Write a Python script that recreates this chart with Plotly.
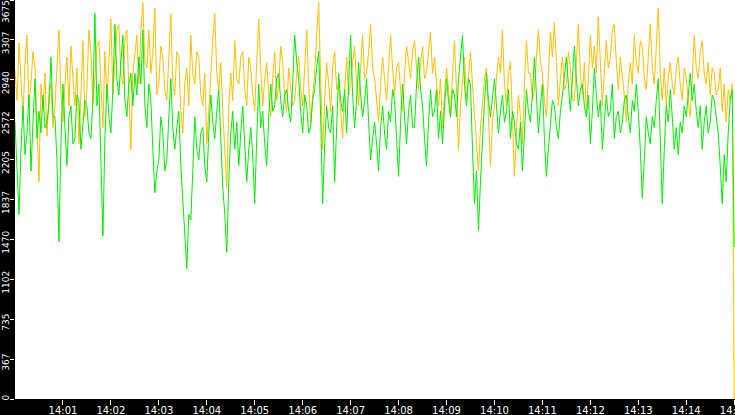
import pandas as pd
import plotly.graph_objects as go

# samples every 2.5 s from 14:00:00 to 14:15:00
start = "2024-01-01 14:00:00"

orange_vals = [
    3030, 2750, 3280, 2950, 2600, 3100, 3350, 2700, 2900, 3200,
    3050, 2550, 2000, 2900, 2650, 3000, 2420, 2800, 2900, 2500,
    2700, 3050, 3400, 2800, 2550, 2900, 3150, 2700, 3250, 2950,
    2700, 3050, 2350, 2800, 3300, 2600, 2850, 3400, 3200, 2700,
    2950, 3250, 3300, 2850, 2500, 3200, 2750, 3100, 3500, 2800,
    3100, 3400, 3450, 3000, 2900, 3300, 3400, 2800, 2300, 3000,
    3150, 3350, 2900, 3400, 3650, 3100, 3050, 3400, 3000, 3200,
    3600, 2800, 2900, 3250, 3150, 2850, 2750, 3100, 3550, 2900,
    2800, 3200, 3150, 2650, 2450, 2900, 3050, 2700, 3350, 3000,
    2900, 3200, 3150, 2800, 2700, 3000, 2350, 2650, 3000, 3300,
    3550, 3000, 2850, 3100, 2650, 2300, 1950, 2700, 3000, 2750,
    3300, 2950, 2900, 3150, 3200, 2850, 2700, 3150, 3050, 2800,
    2650, 3100, 3500, 3050, 2700, 2950, 3100, 2800, 2600, 2950,
    3200, 2750, 2900, 3250, 3100, 2800, 2650, 3050, 2900, 2700,
    2750, 3000, 3150, 2850, 2700, 3100, 3400, 2900, 2550, 2800,
    3000, 3350, 3650, 2950, 2300, 2750, 3100, 2900, 2650, 3050,
    3200, 2850, 2900, 2650, 2400, 2850, 3150, 2800, 2900, 3100,
    3250, 2900, 2700, 3050, 3350, 2950, 3000, 3200, 3450, 3050,
    2950, 2750, 2550, 2900, 3150, 2950, 2750, 3050, 3350, 3050,
    2800, 3050, 3100, 2850, 2650, 3000, 3250, 3100, 2950, 3200,
    3300, 3050, 2850, 3100, 3250, 2950, 3000, 3200, 3380, 3000,
    3150, 2900, 2700, 2950, 2500, 2800, 3050, 2850, 2600, 3000,
    3300, 2850, 2300, 2700, 2950, 3150, 2750, 3000, 3200, 2900,
    2650, 2400, 2100, 2500, 2700, 2950, 3050, 2600, 2150, 2550,
    2700, 2950, 3150, 3000, 3400, 2900, 2700, 3000, 3100, 2600,
    2050, 2450, 2800, 2600, 2350, 2900, 3300, 3000, 3000, 2750,
    2850, 3150, 3400, 3100, 3000, 2750, 2600, 3000, 3380, 3150,
    3470, 3100, 2700, 2950, 3150, 2850, 2900, 3200, 3050, 2750,
    2750, 3100, 3450, 3000, 2800, 3100, 2600, 2950, 3350, 3050,
    3250, 3000, 3520, 3100, 2700, 3000, 3300, 3050, 3150, 3400,
    3450, 3100, 2850, 3150, 3000, 2800, 2550, 2900, 3100, 2900,
    3350, 3100, 3000, 3300, 3250, 2950, 2850, 3150, 3450, 3050,
    2900, 3250, 3600, 3000, 2750, 3050, 2700, 2950, 3100, 2900,
    2800, 3050, 3150, 2900, 2750, 3050, 2950, 2750, 2600, 2950,
    3350, 3050, 2950, 3200, 3300, 3000, 2900, 3100, 2800, 3050,
    3000, 2800, 2850, 3050, 2650, 2900, 2550, 2850, 2750, 2900,
    0,
]

green_vals = [
    2550, 2100, 1700, 2300, 2700, 2250, 2450, 2800, 2100, 2550,
    2950, 2400, 2650, 2450, 2800, 2500, 2550, 2700, 3150, 2600,
    2600, 2200, 1450, 2350, 2900, 2500, 2150, 2600, 2700, 2350,
    2400, 2800, 2750, 2300, 2500, 2750, 2700, 2450, 2400, 2750,
    3550, 2700, 2900, 2200, 1500, 2400, 2900, 2600, 2450, 2850,
    3450, 2950, 2800, 3100, 3350, 2750, 2600, 2900, 3000, 2700,
    3000, 2800, 3150, 2900, 3400, 2700, 2500, 2900, 2750, 2300,
    1900, 2100, 2200, 2600, 2450, 2100, 2200, 2600, 2950, 2500,
    2300, 2500, 2650, 2150, 1850, 1500, 1200, 1700, 1650, 2100,
    2600, 2300, 2200, 2450, 2500, 2150, 2000, 2450, 2800, 2550,
    2400, 2650, 2850, 2400, 1950, 1700, 1350, 2000, 2450, 2650,
    2300, 2550, 2150, 2450, 2700, 2350, 2000, 2300, 2500, 2250,
    1800, 2400, 2900, 2500, 2650, 2350, 2150, 2600, 2900, 2650,
    2700, 2950, 3000, 2750, 2600, 2800, 2850, 2650, 2550, 2900,
    3350, 3100, 2950, 2650, 2450, 2800, 2700, 2450, 2500, 2750,
    2850, 3050, 3200, 2600, 1800, 2350, 2700, 2500, 2450, 2700,
    2000, 2500, 3000, 2750, 2650, 2850, 2450, 2900, 3350, 2800,
    2500, 2750, 3100, 2800, 2600, 2750, 2950, 2550, 2200, 2400,
    2550, 2350, 2100, 2500, 2700, 2450, 2300, 2650, 2550, 2850,
    2750, 2400, 2050, 2550, 2900, 2600, 2350, 2650, 2800, 2500,
    2500, 2900, 3150, 2850, 2700, 2400, 2150, 2550, 2850, 2600,
    2650, 2850, 2400, 2650, 2350, 2700, 2950, 2750, 2600, 2850,
    2800, 2600, 2950, 3150, 3350, 2900, 2700, 2950, 2900, 2300,
    1800, 2100, 1550, 2000, 2450, 2750, 3000, 2750, 2600, 2800,
    2950, 2700, 2450, 2650, 2800, 2550, 2650, 2850, 2400, 2650,
    2550, 2350, 2300, 2550, 2100, 2450, 2850, 2650, 2550, 2800,
    3150, 2800, 2450, 2700, 2900, 2400, 2050, 2300, 2500, 2750,
    2700, 2500, 2400, 2650, 2800, 3000, 3150, 2900, 2650, 2950,
    3250, 2950, 2700, 2850, 2900, 2700, 2600, 2800, 2350, 2650,
    3050, 2800, 2600, 2750, 2300, 2550, 2800, 2600, 2650, 2900,
    2400, 2600, 2650, 2450, 2550, 2750, 2800, 2600, 2450, 2750,
    2650, 2900, 2650, 2300, 1850, 2200, 2600, 2450, 2350, 2600,
    2500, 2750, 2950, 2400, 1800, 2300, 2700, 2550, 2850, 2600,
    2300, 2500, 2250, 2550, 2450, 2700, 2600, 2800, 3000, 2750,
    2900, 2650, 2500, 2700, 2300, 2550, 2700, 2450, 2550, 2800,
    2750, 2600, 2450, 2150, 1800, 2250, 2000, 2450, 2750, 2850,
    1400,
]

y_ticks = [0, 367, 735, 1102, 1470, 1837, 2205, 2572, 2940, 3307, 3675]

times = pd.date_range(start, periods=len(orange_vals), freq="2500ms")
minute_ticks = pd.date_range("2024-01-01 14:01:00", "2024-01-01 14:15:00", freq="1min")
x_end = times[-1] + pd.Timedelta(seconds=1)

# labels sit a little below their tick in the original; pad the top end
# (the top one is pushed fully inside the figure)
nbsp = "\u00a0"
y_labels = []
for v in y_ticks:
    if v == 0:
        y_labels.append(str(v))
    elif v == y_ticks[-1]:
        y_labels.append(str(v) + nbsp * 9)
    else:
        y_labels.append(str(v) + nbsp * 3)

fig = go.Figure()
fig.add_trace(
    go.Scatter(
        x=times,
        y=orange_vals,
        mode="lines",
        line=dict(color="#ffbf00", width=1),
        showlegend=False,
        hoverinfo="skip",
    )
)
fig.add_trace(
    go.Scatter(
        x=times,
        y=green_vals,
        mode="lines",
        line=dict(color="#00ee00", width=1),
        showlegend=False,
        hoverinfo="skip",
    )
)

fig.update_layout(
    width=735,
    height=415,
    margin=dict(l=15, r=0, t=0, b=16),
    paper_bgcolor="black",
    plot_bgcolor="white",
    xaxis=dict(
        type="date",
        range=[times[0], x_end],
        tickvals=minute_ticks,
        tickformat="%H:%M",
        showgrid=False,
        zeroline=False,
        automargin=False,
        ticks="outside",
        ticklen=5,
        tickcolor="white",
        tickfont=dict(family="DejaVu Sans", size=10, color="white"),
        ticklabelstandoff=-3,
        ticklabeloverflow="allow",
    ),
    yaxis=dict(
        range=[0, 3675],
        tickvals=y_ticks,
        ticktext=y_labels,
        tickangle=-90,
        showgrid=False,
        zeroline=False,
        automargin=False,
        ticks="outside",
        ticklen=4,
        tickcolor="white",
        tickfont=dict(family="DejaVu Sans", size=9, color="white"),
        ticklabelstandoff=-3,
        ticklabeloverflow="allow",
    ),
)

# browser default body margin would shift the 735x415 figure
fig.write_html(
    "out.html",
    config={"displayModeBar": False},
    post_script="document.body.style.margin='0';document.body.style.overflow='hidden';",
)
